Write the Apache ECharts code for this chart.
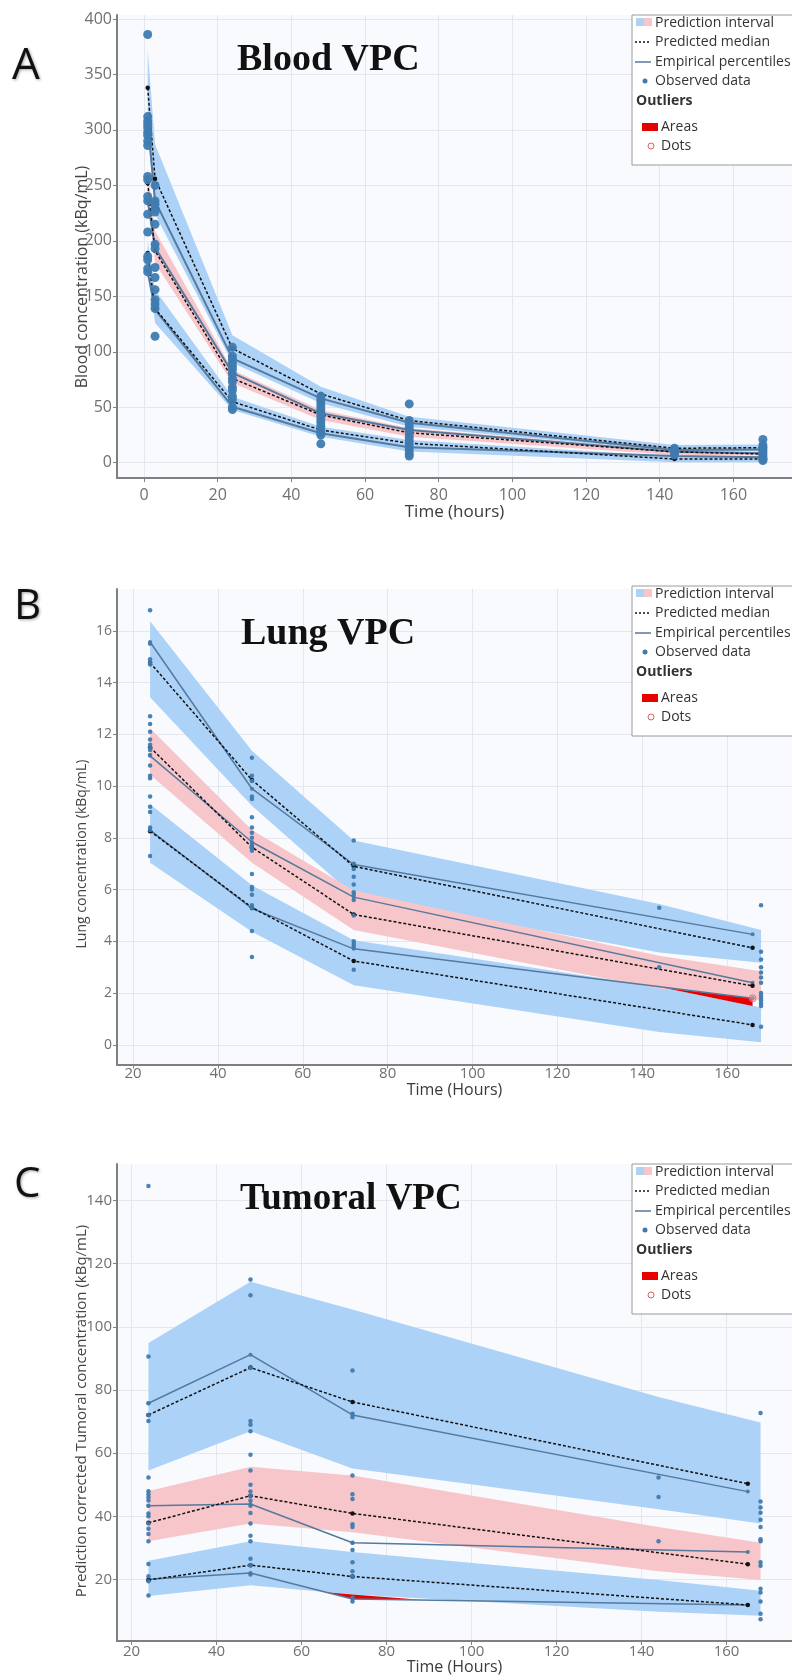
<!DOCTYPE html>
<html lang="en">
<head>
<meta charset="UTF-8" />
<title>VPC</title>
<script src="https://cdn.jsdelivr.net/npm/echarts@6/dist/echarts.min.js"></script>
</head>
<body style="margin:0;background:#fff">
<div id="main" style="width:792px;height:1675px"></div>
<script type="text/javascript">
// ---- A: blood ----
var bloodTimes = [1, 3, 24, 48, 72, 144, 168];
var bloodPiHighLo = [300, 224, 90, 53.6, 32.5, 10, 10.5];
var bloodPiHighHi = [372, 287, 115, 68.5, 41.5, 16, 16.5];
var bloodPiMidLo = [240, 180, 71.8, 38.5, 23.4, 7, 6.5];
var bloodPiMidHi = [266, 209, 83.5, 47.5, 31, 11, 10];
var bloodPiLowLo = [178, 126, 47.5, 23.4, 10, 0.5, 0.5];
var bloodPiLowHi = [200, 156, 59.5, 32.4, 20.4, 5.5, 5];
var bloodMedHigh = [338, 256, 103, 62, 38, 13, 13.5];
var bloodMedMid = [252, 191, 76, 43, 27, 9.8, 7.8];
var bloodMedLow = [189, 139, 55, 29.5, 17.5, 3.3, 3.3];
var bloodEmpHigh = [308, 236, 94, 58, 36, 11.4, 12];
var bloodEmpMid = [236, 194, 81, 44.5, 29.5, 9.8, 8.5];
var bloodEmpLow = [172, 138, 50.5, 26.5, 13.9, 6, 5];
var bloodObs = [
  [386, 312, 308, 305, 302, 298, 295, 290, 286, 258, 255, 240, 236, 224, 208, 186, 183, 175, 172],
  [250, 236, 233, 229, 226, 215, 197, 193, 176, 167, 156, 147, 143, 139, 114],
  [104, 96, 93, 90, 87, 84, 80, 76, 73, 68, 65, 60, 57, 50, 48],
  [60, 57, 54, 51, 48, 45, 42, 39, 36, 33, 30, 27, 25, 17],
  [53, 38, 35, 32, 29, 26, 23, 20, 17, 14, 11, 8, 6],
  [13, 11, 9, 7],
  [21, 16, 14, 12, 10, 8, 6, 4, 3, 2]
];
var bloodXTicks = [0, 20, 40, 60, 80, 100, 120, 140, 160];
var bloodYTicks = [0, 50, 100, 150, 200, 250, 300, 350, 400];

// ---- B: lung ----
var lungBandTimes = [24, 48, 72, 144, 168];
var lungPiHighLo = [13.44, 9.24, 5.77, 3.57, 3.17];
var lungPiHighHi = [16.37, 11.37, 7.9, 5.44, 4.44];
var lungPiMidLo = [10.44, 7.04, 4.44, 2.17, 1.71];
var lungPiMidHi = [12.24, 8.3, 5.97, 3.44, 2.84];
var lungPiLowLo = [7.04, 4.37, 2.3, 0.5, 0.1];
var lungPiLowHi = [9.3, 6.17, 4.04, 2.24, 1.44];
var lungLineTimes = [24, 48, 72, 166];
var lungMedHigh = [14.77, 10.24, 6.9, 3.75];
var lungMedMid = [11.5, 7.64, 5.04, 2.28];
var lungMedLow = [8.26, 5.31, 3.24, 0.77];
var lungEmpHigh = [15.57, 9.9, 6.97, 4.27];
var lungEmpMid = [11.17, 7.84, 5.71, 2.4];
var lungEmpLow = [8.3, 5.27, 3.71, 1.8];
var lungOutTimes = [145, 166];
var lungOutLo = [2.21, 1.5];
var lungOutHi = [2.21, 1.8];
var lungOutDots = [[166, 1.8]];
var lungObsTimes = [24, 48, 72, 144, 168];
var lungObs = [
  [16.8, 15.5, 14.9, 14.8, 14.7, 12.7, 12.4, 12.1, 11.8, 11.6, 11.5, 11.4, 11.2, 10.8, 10.4, 10.3, 9.6, 9.2, 9.0, 8.4, 8.3, 7.3],
  [11.1, 10.4, 10.2, 9.6, 9.5, 8.8, 8.4, 8.2, 8.0, 7.8, 7.7, 7.6, 7.5, 6.6, 6.1, 6.0, 5.8, 5.4, 5.3, 4.4, 3.4],
  [7.9, 7.0, 6.8, 6.5, 6.2, 5.9, 5.8, 5.6, 5.0, 4.0, 3.9, 3.8, 2.9],
  [5.3, 3.0],
  [5.4, 3.6, 3.3, 3.0, 2.8, 2.6, 2.4, 2.0, 1.9, 1.8, 1.7, 1.6, 1.5, 0.7]
];
var lungXTicks = [20, 40, 60, 80, 100, 120, 140, 160];
var lungYTicks = [0, 2, 4, 6, 8, 10, 12, 14, 16];

// ---- C: tumoral ----
var tumorBandTimes = [24, 48, 72, 144, 168];
var tumorPiHighLo = [54.5, 66.9, 55.1, 42.2, 37.7];
var tumorPiHighHi = [94.9, 114.3, 105.5, 77.8, 69.7];
var tumorPiMidLo = [32.1, 37.7, 34.9, 22.6, 19.8];
var tumorPiMidHi = [48, 55.7, 52.9, 36.6, 31.6];
var tumorPiLowLo = [14.7, 18.1, 15.2, 9.7, 8.5];
var tumorPiLowHi = [25.9, 32.1, 28.7, 19.8, 16.4];
var tumorLineTimes = [24, 48, 72, 165];
var tumorMedHigh = [72.1, 87.1, 76.2, 50.3];
var tumorMedMid = [37.9, 46.5, 40.9, 24.8];
var tumorMedLow = [19.8, 24.5, 20.9, 11.9];
var tumorEmpHigh = [75.8, 91.2, 72.1, 47.8];
var tumorEmpMid = [43.3, 43.9, 31.6, 28.7];
var tumorEmpLow = [20, 22, 13.8, 11.9];
var tumorOutTimes = [66, 72, 88];
var tumorOutLo = [15.9, 13.8, 13.5];
var tumorOutHi = [15.9, 15.2, 13.5];
var tumorObsTimes = [24, 48, 72, 144, 168];
var tumorObs = [
  [144.6, 90.6, 75.8, 72.1, 70.2, 52.3, 47.9, 47.0, 46.0, 45.0, 43.3, 40.9, 40.0, 37.7, 36.0, 34.4, 32.1, 24.9, 21.0, 19.4, 14.9],
  [115, 110, 87, 70.2, 69, 66.9, 59.5, 54.5, 50, 47.8, 46.5, 45, 43.3, 41, 37.7, 33.8, 32.1, 26.5, 24.5, 21.5],
  [86.2, 72.5, 71.4, 52.9, 47, 45.5, 37.5, 36.6, 31.6, 29.3, 25.4, 22.6, 20.9, 14.2, 13],
  [52.3, 46.1, 32.1],
  [72.7, 44.7, 42.8, 41.1, 38.9, 36.6, 32.7, 32.1, 25.4, 24.3, 17, 15.8, 13, 9.1, 7.4]
];
var tumorXTicks = [20, 40, 60, 80, 100, 120, 140, 160];
var tumorYTicks = [20, 40, 60, 80, 100, 120, 140];

// ---- styles ----
var FONT = '"Open Sans", "Noto Sans", sans-serif';
var BLUE_BAND = '#acd2f7';
var PINK_BAND = '#f7c6ca';
var EMP_COLOR = '#56799e';
var OBS_COLOR = '#3f7bb0';
var AXIS_COLOR = '#7f7f7f';

function pairs(ts, vs) {
  return ts.map(function (t, i) { return [t, vs[i]]; });
}
function obsPoints(ts, groups) {
  var out = [];
  groups.forEach(function (g, i) {
    g.forEach(function (v) { out.push([ts[i], v]); });
  });
  return out;
}

// filled band between lo and hi, drawn through the axis scales
function band(ax, ts, lo, hi, color, z) {
  return {
    type: 'custom', xAxisIndex: ax, yAxisIndex: ax, z: z, silent: true,
    data: [[ts[0], lo[0]]],
    renderItem: function (params, api) {
      var pts = [];
      for (var i = 0; i < ts.length; i++) pts.push(api.coord([ts[i], hi[i]]));
      for (var j = ts.length - 1; j >= 0; j--) pts.push(api.coord([ts[j], lo[j]]));
      return { type: 'polygon', shape: { points: pts }, style: { fill: color } };
    }
  };
}
function median(ax, ts, vs) {
  return {
    type: 'line', xAxisIndex: ax, yAxisIndex: ax, z: 4, silent: true,
    data: pairs(ts, vs), symbol: 'circle', symbolSize: 4.5,
    itemStyle: { color: '#111' },
    lineStyle: { color: '#111', width: 1.5, type: [3, 2] }
  };
}
function empirical(ax, ts, vs, w) {
  return {
    type: 'line', xAxisIndex: ax, yAxisIndex: ax, z: 3, silent: true,
    data: pairs(ts, vs), symbol: 'circle', symbolSize: 4,
    itemStyle: { color: EMP_COLOR },
    lineStyle: { color: EMP_COLOR, width: w }
  };
}
function observed(ax, ts, groups, size) {
  return {
    type: 'scatter', xAxisIndex: ax, yAxisIndex: ax, z: 5, silent: true,
    data: obsPoints(ts, groups), symbolSize: size,
    itemStyle: { color: OBS_COLOR, opacity: 0.95 }
  };
}

function xAxisOf(grid, min, max, ticks, name, labelSize, margin, nameGap) {
  return {
    type: 'value', gridIndex: grid, min: min, max: max,
    axisLine: { show: true, onZero: false, lineStyle: { color: AXIS_COLOR, width: 2 } },
    axisTick: { show: true, customValues: ticks, length: 4, lineStyle: { color: AXIS_COLOR } },
    axisLabel: { customValues: ticks, color: '#707070', fontSize: labelSize, margin: margin, fontFamily: FONT },
    splitLine: { show: true, lineStyle: { color: '#e5e7ee', width: 1 } },
    name: name, nameLocation: 'middle', nameGap: nameGap,
    nameTextStyle: { fontSize: labelSize + 1, color: '#3a3a3a', fontFamily: FONT }
  };
}
function yAxisOf(grid, min, max, ticks, labelSize) {
  return {
    type: 'value', gridIndex: grid, min: min, max: max,
    axisLine: { show: true, onZero: false, lineStyle: { color: AXIS_COLOR, width: 2 } },
    axisTick: { show: true, customValues: ticks, length: 4, lineStyle: { color: AXIS_COLOR } },
    axisLabel: { customValues: ticks, color: '#707070', fontSize: labelSize, margin: 5, fontFamily: FONT },
    splitLine: { show: true, lineStyle: { color: '#e5e7ee', width: 1 } }
  };
}

function legendBox(top) {
  var t = function (txt, x, y, bold) {
    return { type: 'text', x: x, y: y, z: 101,
      style: { text: txt, fill: '#333', fontSize: 14, fontFamily: FONT, fontWeight: bold ? 'bold' : 'normal',
        align: 'left', verticalAlign: 'middle' } };
  };
  return [
    { type: 'rect', z: 100, shape: { x: 632, y: top, width: 200, height: 150 },
      style: { fill: '#fff', stroke: '#9a9a9a', lineWidth: 1 } },
    { type: 'rect', z: 101, shape: { x: 636, y: top + 3, width: 8, height: 8 }, style: { fill: BLUE_BAND } },
    { type: 'rect', z: 101, shape: { x: 644, y: top + 3, width: 8, height: 8 }, style: { fill: PINK_BAND } },
    t('Prediction interval', 655, top + 8),
    { type: 'line', z: 101, shape: { x1: 635, y1: top + 27, x2: 651, y2: top + 27 },
      style: { stroke: '#111', lineWidth: 1.5, lineDash: [2, 2] } },
    t('Predicted median', 655, top + 27),
    { type: 'line', z: 101, shape: { x1: 635, y1: top + 47, x2: 651, y2: top + 47 },
      style: { stroke: EMP_COLOR, lineWidth: 1.5 } },
    t('Empirical percentiles', 655, top + 47),
    { type: 'circle', z: 101, shape: { cx: 645, cy: top + 66, r: 2.5 }, style: { fill: OBS_COLOR } },
    t('Observed data', 655, top + 66),
    t('Outliers', 636, top + 86, true),
    { type: 'rect', z: 101, shape: { x: 642, y: top + 108, width: 16, height: 8 }, style: { fill: '#e60000' } },
    t('Areas', 661, top + 112),
    { type: 'circle', z: 101, shape: { cx: 651, cy: top + 131, r: 3 },
      style: { fill: 'none', stroke: '#e06060', lineWidth: 1 } },
    t('Dots', 661, top + 131)
  ];
}

function bigText(txt, x, y, font, shadow) {
  return { type: 'text', x: x, y: y, z: 50,
    style: { text: txt, font: font, fill: '#111', align: 'left', verticalAlign: 'middle',
      textShadowColor: shadow ? 'rgba(0,0,0,0.35)' : 'transparent', textShadowBlur: shadow ? 3 : 0,
      textShadowOffsetX: shadow ? 1 : 0, textShadowOffsetY: shadow ? 1 : 0 } };
}
function yName(txt, x, y, size) {
  return { type: 'text', x: x, y: y, rotation: Math.PI / 2, z: 50,
    style: { text: txt, fontSize: size, fontFamily: FONT, fill: '#444', align: 'center', verticalAlign: 'middle' } };
}

var graphics = [
  bigText('A', 12, 66, '44px "Open Sans", sans-serif', true),
  bigText('B', 14, 607, '42px "Open Sans", sans-serif', true),
  bigText('C', 14, 1185, '42px "Open Sans", sans-serif', true),
  bigText('Blood VPC', 237, 60, 'bold 38px "Liberation Serif", serif'),
  bigText('Lung VPC', 241, 634, 'bold 38px "Liberation Serif", serif'),
  bigText('Tumoral VPC', 240, 1199, 'bold 37px "Liberation Serif", serif'),
  yName('Blood concentration (kBq/mL)', 82, 277, 16),
  yName('Lung concentration (kBq/mL)', 82, 854, 14),
  yName('Prediction corrected Tumoral concentration (kBq/mL)', 82, 1411, 15)
].concat(legendBox(15), legendBox(586), legendBox(1164));

var myChart = echarts.init(document.getElementById('main'), null, { renderer: 'canvas' });

var option = {
  animation: false,
  backgroundColor: '#ffffff',
  grid: [
    { left: 117, top: 15, right: 0, height: 463, show: true, backgroundColor: '#f9fafd', borderWidth: 0, outerBoundsMode: 'none' },
    { left: 117, top: 589, right: 0, height: 475.5, show: true, backgroundColor: '#f9fafd', borderWidth: 0, outerBoundsMode: 'none' },
    { left: 117, top: 1164, right: 0, height: 477, show: true, backgroundColor: '#f9fafd', borderWidth: 0, outerBoundsMode: 'none' }
  ],
  xAxis: [
    xAxisOf(0, -7.33, 175.9, bloodXTicks, 'Time (hours)', 16, 9, 23),
    xAxisOf(1, 16.2, 175.3, lungXTicks, 'Time (Hours)', 15, 2, 17),
    xAxisOf(2, 16.6, 175.4, tumorXTicks, 'Time (Hours)', 15, 3, 18)
  ],
  yAxis: [
    yAxisOf(0, -13.8, 403.6, bloodYTicks, 16),
    yAxisOf(1, -0.76, 17.62, lungYTicks, 14),
    yAxisOf(2, 0.47, 151.6, tumorYTicks, 15)
  ],
  graphic: graphics,
  series: [
    band(0, bloodTimes, bloodPiHighLo, bloodPiHighHi, BLUE_BAND, 1),
    band(0, bloodTimes, bloodPiLowLo, bloodPiLowHi, BLUE_BAND, 1),
    band(0, bloodTimes, bloodPiMidLo, bloodPiMidHi, PINK_BAND, 1),
    empirical(0, bloodTimes, bloodEmpHigh, 2),
    empirical(0, bloodTimes, bloodEmpMid, 2),
    empirical(0, bloodTimes, bloodEmpLow, 2),
    median(0, bloodTimes, bloodMedHigh),
    median(0, bloodTimes, bloodMedMid),
    median(0, bloodTimes, bloodMedLow),
    observed(0, bloodTimes, bloodObs, 9),

    band(1, lungBandTimes, lungPiHighLo, lungPiHighHi, BLUE_BAND, 1),
    band(1, lungBandTimes, lungPiLowLo, lungPiLowHi, BLUE_BAND, 1),
    band(1, lungBandTimes, lungPiMidLo, lungPiMidHi, PINK_BAND, 1),
    band(1, lungOutTimes, lungOutLo, lungOutHi, '#e60000', 2),
    empirical(1, lungLineTimes, lungEmpHigh, 1.5),
    empirical(1, lungLineTimes, lungEmpMid, 1.5),
    empirical(1, lungLineTimes, lungEmpLow, 1.5),
    median(1, lungLineTimes, lungMedHigh),
    median(1, lungLineTimes, lungMedMid),
    median(1, lungLineTimes, lungMedLow),
    observed(1, lungObsTimes, lungObs, 4.5),
    { type: 'scatter', xAxisIndex: 1, yAxisIndex: 1, z: 6, silent: true, data: lungOutDots, symbolSize: 7,
      itemStyle: { color: 'rgba(240,150,160,0.6)', borderColor: '#e06070', borderWidth: 1 } },

    band(2, tumorBandTimes, tumorPiHighLo, tumorPiHighHi, BLUE_BAND, 1),
    band(2, tumorBandTimes, tumorPiLowLo, tumorPiLowHi, BLUE_BAND, 1),
    band(2, tumorBandTimes, tumorPiMidLo, tumorPiMidHi, PINK_BAND, 1),
    band(2, tumorOutTimes, tumorOutLo, tumorOutHi, '#e60000', 2),
    empirical(2, tumorLineTimes, tumorEmpHigh, 1.5),
    empirical(2, tumorLineTimes, tumorEmpMid, 1.5),
    empirical(2, tumorLineTimes, tumorEmpLow, 1.5),
    median(2, tumorLineTimes, tumorMedHigh),
    median(2, tumorLineTimes, tumorMedMid),
    median(2, tumorLineTimes, tumorMedLow),
    observed(2, tumorObsTimes, tumorObs, 4.5)
  ]
};

if (option && typeof option === 'object') {
  myChart.setOption(option);
}
window.addEventListener('resize', myChart.resize);
</script>
</body>
</html>
